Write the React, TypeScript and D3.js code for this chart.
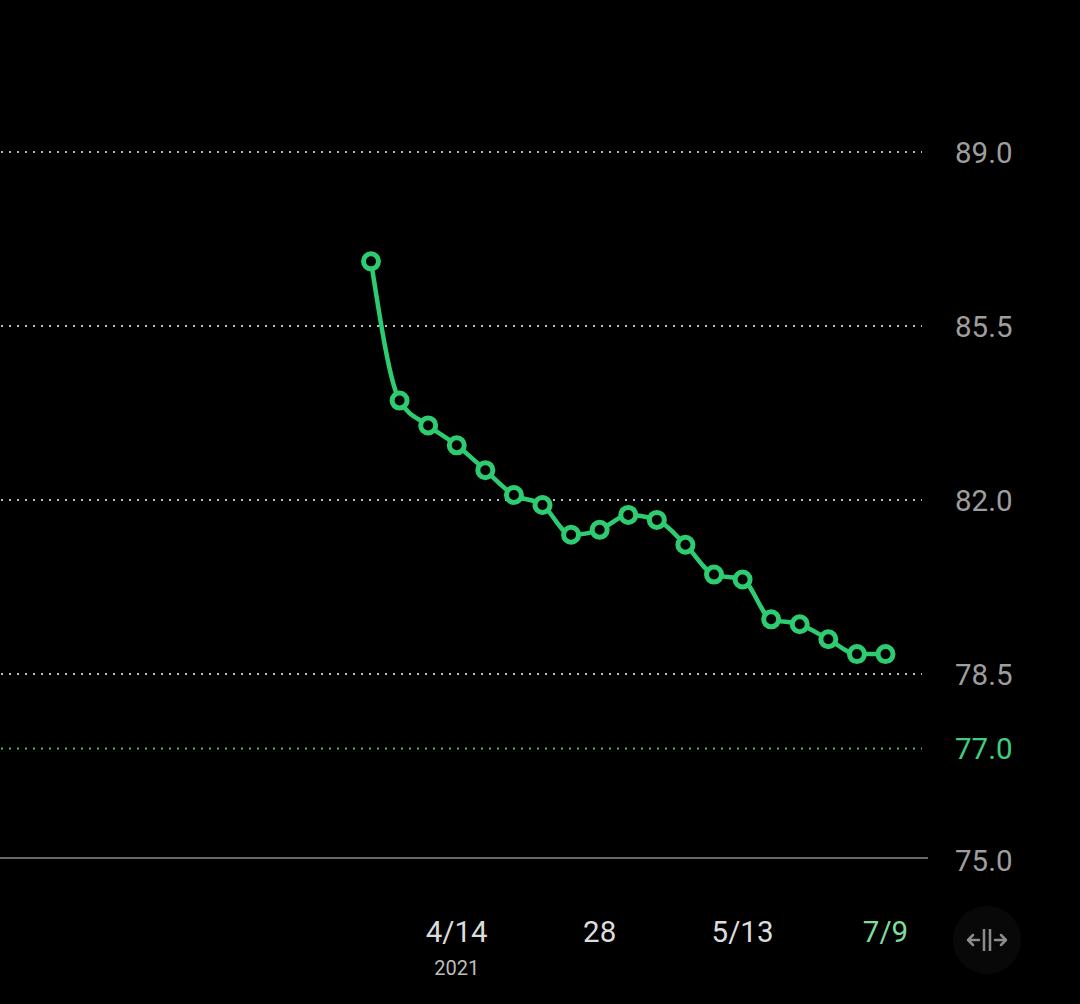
import React from "react";
import * as d3 from "d3";

const values = [86.8, 84.0, 83.5, 83.1, 82.6, 82.1, 81.9, 81.3, 81.4, 81.7, 81.6, 81.1, 80.5, 80.4, 79.6, 79.5, 79.2, 78.9, 78.9];
const gridTicks = [89.0, 85.5, 82.0, 78.5];
const goalValue = 77.0;
const baseLabel = "75.0";
const xLabels = [
  { index: 3, label: "4/14", sub: "2021", highlight: false },
  { index: 8, label: "28", sub: "", highlight: false },
  { index: 13, label: "5/13", sub: "", highlight: false },
  { index: 18, label: "7/9", sub: "", highlight: true },
];

const W = 1080;
const H = 1004;
const GREEN = "#2ecc71";
const FONT = "Roboto, 'Noto Sans', sans-serif";

export default function App() {
  const x = d3.scaleLinear().domain([0, values.length - 1]).range([371, 885.5]);
  const y = d3.scaleLinear().domain([78.5, 89.0]).range([674, 152]);
  const line = d3
    .line<number>()
    .x((_, i) => x(i))
    .y((d) => y(d))
    .curve(d3.curveMonotoneX);

  return (
    <div style={{ position: "fixed", left: 0, top: 0, width: W, height: H, background: "#000" }}>
      <svg width={W} height={H} style={{ display: "block", background: "#000" }}>
        {gridTicks.map((t) => (
          <g key={t}>
            <line
              x1={1}
              x2={922}
              y1={y(t)}
              y2={y(t)}
              stroke="#bdbdbd"
              strokeWidth={2}
              strokeDasharray="2 6"
            />
            <text
              x={955}
              y={y(t)}
              dy="0.36em"
              fill="#9e9e9e"
              fontFamily={FONT}
              fontSize={29.5}
            >
              {t.toFixed(1)}
            </text>
          </g>
        ))}
        <line
          x1={1}
          x2={922}
          y1={y(goalValue)}
          y2={y(goalValue)}
          stroke="#3fbf73"
          strokeWidth={2}
          strokeDasharray="2 6"
        />
        <text
          x={955}
          y={y(goalValue)}
          dy="0.36em"
          fill="#3fcf7c"
          fontFamily={FONT}
          fontSize={29.5}
        >
          {goalValue.toFixed(1)}
        </text>
        <line x1={0} x2={928} y1={858} y2={858} stroke="#8a8a8a" strokeWidth={1.5} />
        <text x={955} y={860} dy="0.36em" fill="#9e9e9e" fontFamily={FONT} fontSize={29.5}>
          {baseLabel}
        </text>

        <path d={line(values) || ""} fill="none" stroke={GREEN} strokeWidth={4.5} strokeLinejoin="round" />
        {values.map((v, i) => (
          <circle key={i} cx={x(i)} cy={y(v)} r={7.5} fill="#000" stroke={GREEN} strokeWidth={5} />
        ))}

        {xLabels.map((l) => (
          <g key={l.index}>
            <text
              x={x(l.index)}
              y={931}
              dy="0.36em"
              textAnchor="middle"
              fill={l.highlight ? "#7fdc9c" : "#dcdcdc"}
              fontFamily={FONT}
              fontSize={29.5}
            >
              {l.label}
            </text>
            {l.sub && (
              <text
                x={x(l.index)}
                y={968}
                dy="0.36em"
                textAnchor="middle"
                fill="#bdbdbd"
                fontFamily={FONT}
                fontSize={20}
              >
                {l.sub}
              </text>
            )}
          </g>
        ))}

        <g transform="translate(987,940)">
          <circle r={34} fill="#080808" />
          <line x1={-3} x2={-3} y1={-11} y2={11} stroke="#8c8c8c" strokeWidth={2.5} />
          <line x1={3} x2={3} y1={-11} y2={11} stroke="#8c8c8c" strokeWidth={2.5} />
          <path d="M-8,0 H-19 M-14,-5 L-19,0 L-14,5" fill="none" stroke="#8c8c8c" strokeWidth={2.5} strokeLinecap="round" strokeLinejoin="round" />
          <path d="M8,0 H19 M14,-5 L19,0 L14,5" fill="none" stroke="#8c8c8c" strokeWidth={2.5} strokeLinecap="round" strokeLinejoin="round" />
        </g>
      </svg>
    </div>
  );
}
